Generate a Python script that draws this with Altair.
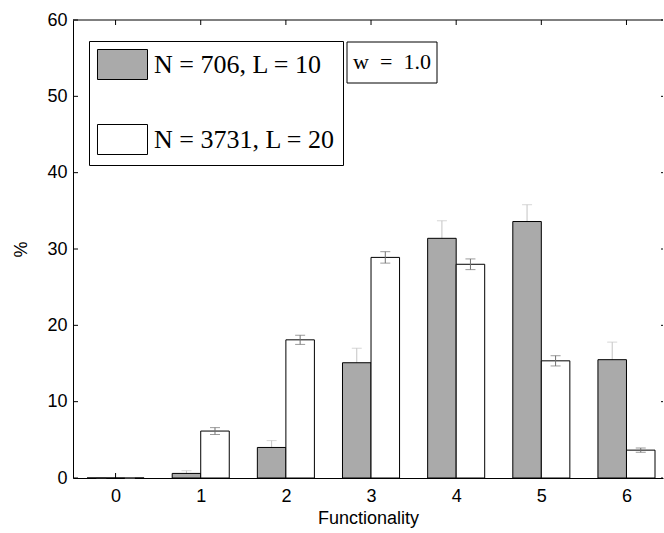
import altair as alt
import pandas as pd

# ---- data ----
cats = [0, 1, 2, 3, 4, 5, 6]
series_names = ["N = 706, L = 10", "N = 3731, L = 20"]
gray_vals = [0.0, 0.6, 4.0, 15.1, 31.4, 33.6, 15.5]
gray_err = [0.0, 0.35, 0.9, 1.9, 2.3, 2.2, 2.3]
white_vals = [0.0, 6.15, 18.1, 28.9, 28.0, 15.35, 3.65]
white_err = [0.0, 0.45, 0.6, 0.75, 0.7, 0.67, 0.28]
y_ticks = [0, 10, 20, 30, 40, 50, 60]
note_text = ["w\u2002=\u20021.0"]

W, H = 590, 458
BW = 0.335  # bar width in category units
FONT = "Liberation Sans"

rows = []
for c, v, e in zip(cats, gray_vals, gray_err):
    rows.append(dict(series=series_names[0], cat=c, val=v, base=0.0, err=e,
                     x=c - BW, x2=c, xc=c - BW / 2, lo=v - e, hi=v + e))
for c, v, e in zip(cats, white_vals, white_err):
    rows.append(dict(series=series_names[1], cat=c, val=v, base=0.0, err=e,
                     x=c, x2=c + BW, xc=c + BW / 2, lo=v - e, hi=v + e))
df = pd.DataFrame(rows)
df_gray = df[df.series == series_names[0]]
df_white = df[df.series == series_names[1]]

xscale = alt.Scale(domain=[-0.5, -0.5 + W / 85.15], nice=False, zero=False)
yscale = alt.Scale(domain=[0, 60], nice=False)

xaxis = alt.Axis(values=cats, title="Functionality", ticks=False, grid=False,
                 domainColor="black", domainWidth=1, labelFont=FONT,
                 labelFontSize=18, labelColor="black", labelPadding=9,
                 titleFont=FONT, titleFontSize=18, titleFontWeight="normal",
                 titleColor="black", titlePadding=4, format="d")
yaxis = alt.Axis(values=y_ticks, title="%", ticks=False, grid=False,
                 domainColor="black", domainWidth=1, labelFont=FONT,
                 labelFontSize=18, labelColor="black", labelPadding=6,
                 titleFont=FONT, titleFontSize=18, titleFontWeight="normal",
                 titleColor="black", titlePadding=16)

# inward ticks
yt = pd.DataFrame({"v": y_ticks})
xt = pd.DataFrame({"c": cats})
ytick_left = alt.Chart(yt).mark_rule(color="black", strokeWidth=1).encode(
    y=alt.Y("v:Q", scale=yscale, axis=yaxis), x=alt.value(0), x2=alt.value(5))
ytick_right = alt.Chart(yt).mark_rule(color="black", strokeWidth=1).encode(
    y=alt.Y("v:Q", scale=yscale), x=alt.value(W - 2), x2=alt.value(W))
xtick_bottom = alt.Chart(xt).mark_rule(color="black", strokeWidth=1).encode(
    x=alt.X("c:Q", scale=xscale, axis=xaxis), y=alt.value(H), y2=alt.value(H - 5))
xtick_top = alt.Chart(xt).mark_rule(color="black", strokeWidth=1).encode(
    x=alt.X("c:Q", scale=xscale), y=alt.value(0), y2=alt.value(5))
top_border = alt.Chart(pd.DataFrame({"b": [0]})).mark_rule(color="black", strokeWidth=1).encode(
    x=alt.value(0), x2=alt.value(W), y=alt.value(0))


def errbars(d, color):
    base = alt.Chart(d)
    stem = base.mark_rule(color=color, strokeWidth=1).encode(
        x=alt.X("xc:Q", scale=xscale), y=alt.Y("lo:Q", scale=yscale), y2="hi:Q")
    cap_lo = base.mark_tick(color=color, orient="horizontal", size=10, thickness=1).encode(
        x=alt.X("xc:Q", scale=xscale), y=alt.Y("lo:Q", scale=yscale))
    cap_hi = base.mark_tick(color=color, orient="horizontal", size=10, thickness=1).encode(
        x=alt.X("xc:Q", scale=xscale), y=alt.Y("hi:Q", scale=yscale))
    return stem + cap_lo + cap_hi


legend = alt.Legend(
    orient="none", legendX=16, legendY=21, title=None,
    symbolType="M-1.667,-1H1.667V1H-1.667Z", symbolSize=900,
    symbolStrokeColor="black", symbolStrokeWidth=1, symbolOpacity=1,
    symbolOffset=10,
    labelFont="Liberation Serif", labelFontSize=26, labelColor="black",
    labelLimit=0, labelOffset=16, rowPadding=40, padding=8,
    strokeColor="black", fillColor="white")

bars = alt.Chart(df).mark_bar(stroke="black", strokeWidth=1, opacity=1).encode(
    x=alt.X("x:Q", scale=xscale),
    x2="x2:Q",
    y=alt.Y("val:Q", scale=yscale),
    y2="base:Q",
    fill=alt.Fill("series:N", scale=alt.Scale(domain=series_names,
                                              range=["#aaaaaa", "#ffffff"]),
                  legend=legend),
)

note_df = pd.DataFrame({"note": note_text})
note_box = alt.Chart(note_df).mark_rect(fill="white", stroke="black", strokeWidth=1).encode(
    x=alt.value(274), x2=alt.value(364), y=alt.value(22), y2=alt.value(63))
note_label = alt.Chart(note_df).mark_text(
    font="Liberation Serif", fontSize=22, color="black", align="center",
    baseline="middle").encode(
    x=alt.value(319), y=alt.value(42), text="note:N")

chart = alt.layer(
    xtick_bottom, ytick_left, ytick_right, xtick_top,
    errbars(df_gray, "#c4c4c4"),
    bars,
    errbars(df_white, "#707070"),
    top_border,
    note_box, note_label,
).properties(
    width=W, height=H,
    autosize=alt.AutoSizeParams(type="none"),
    padding={"left": 73, "top": 20, "right": 1, "bottom": 55},
    background="white",
).configure_view(strokeWidth=0)

chart.save("out.html", embed_options={"renderer": "svg", "actions": False})
